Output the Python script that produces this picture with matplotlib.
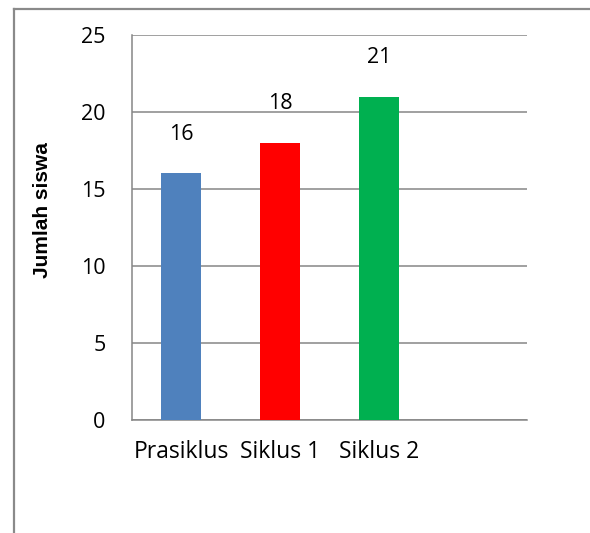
import matplotlib
matplotlib.use("Agg")
import matplotlib.pyplot as plt

categories = ["Prasiklus", "Siklus 1", "Siklus 2", ""]
values = [16, 18, 21]
colors = ["#4F81BD", "#FF0000", "#00B050"]
yticks = [0, 5, 10, 15, 20, 25]

W, H, DPI = 590, 533, 100
fig = plt.figure(figsize=(W / DPI, H / DPI), dpi=DPI)

font = "Open Sans"
grid_c = "#868686"

# chart frame: an empty axes whose left and top spines run off the canvas edges
frame = fig.add_axes([13.5 / W, -0.1, 1.0, 1.1 - 9 / H], zorder=0)
frame.set_facecolor("none")
frame.set_xticks([])
frame.set_yticks([])
for s in ["right", "bottom"]:
    frame.spines[s].set_visible(False)
for s in ["left", "top"]:
    frame.spines[s].set_color("#8a8a8a")
    frame.spines[s].set_linewidth(1.6)

ax = fig.add_axes([132 / W, 1 - 419.5 / H, (527 - 132) / W, (419.5 - 35) / H], zorder=1)
ax.set_facecolor("none")

x = list(range(len(values)))
ax.bar(x, values, width=0.405, color=colors, zorder=3)
for xi, v in zip(x, values):
    ax.annotate(str(v), (xi, v), xytext=(0, 28), textcoords="offset points",
                ha="center", va="center", fontsize=15.5, family=font, color="black")

ax.set_xlim(-0.5, 3.5)
ax.set_ylim(0, 25)
ax.set_yticks(yticks)
ax.set_xticks(range(len(categories)))
ax.set_xticklabels(categories)
ax.yaxis.grid(True, color=grid_c, linewidth=1.1, zorder=0)
ax.set_axisbelow(True)
for s in ["top", "right"]:
    ax.spines[s].set_visible(False)
for s in ["left", "bottom"]:
    ax.spines[s].set_color(grid_c)
    ax.spines[s].set_linewidth(1.1)
ax.tick_params(axis="both", length=0, colors="black")
ax.tick_params(axis="y", pad=19, labelsize=15.5)
ax.tick_params(axis="x", pad=15, labelsize=16.5)
for lab in ax.get_xticklabels() + ax.get_yticklabels():
    lab.set_family(font)

fig.text(43 / W, 1 - 210 / H, "Jumlah siswa", rotation=90, ha="center", va="center",
         fontsize=15, fontweight="bold", family="Liberation Sans")

fig.savefig("out.png", dpi=DPI)
